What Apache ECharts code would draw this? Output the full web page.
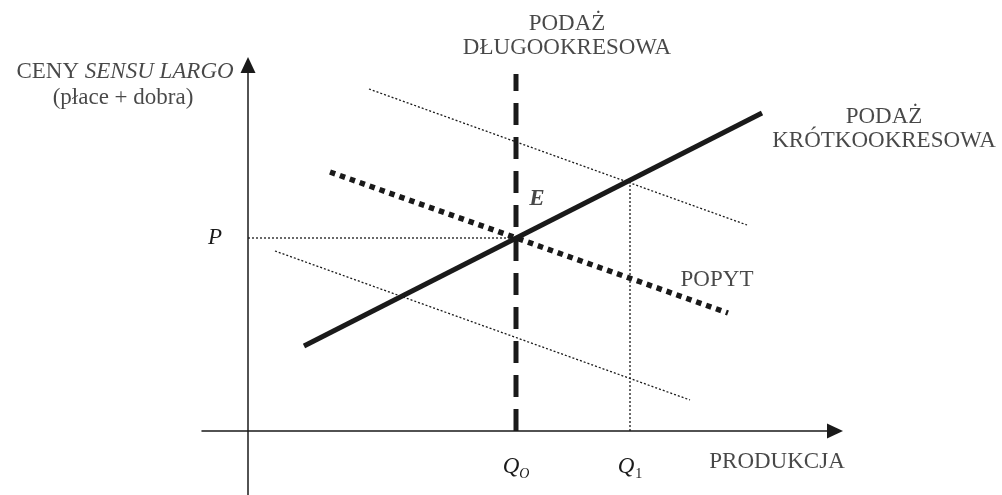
<!DOCTYPE html>
<html>
<head>
<meta charset="utf-8">
<script src="https://cdn.jsdelivr.net/npm/echarts@6/dist/echarts.min.js"></script>
<style>
  html, body { margin: 0; padding: 0; background: #fff; }
  #chart { width: 1002px; height: 495px; }
</style>
</head>
<body>
<div id="chart"></div>
<script>
// Diagram values (abstract units, origin where the axes cross)
const qO = 26.8;   // long-run output
const q1 = 38.2;   // short-run output after the shift
const pE = 19.3;   // equilibrium price level

const shortRunSupply = [[5.6, 8.5], [51.4, 31.8]];
const longRunSupply = [[qO, 0], [qO, 35.7]];
const demand = [[8.2, 25.9], [48.0, 11.8]];
const demandHigh = [[12.1, 34.2], [49.9, 20.6]];
const demandLow = [[2.7, 18.0], [44.2, 3.1]];
const priceGuide = [[0, pE], [qO, pE]];
const q1Guide = [[q1, 0], [q1, 25.0]];

const xTickValues = [qO, q1];
const xTickLabels = ['{q|Q}{so|O}', '{q|Q}{s1|1}'];
const yTickValues = [pE];
const yTickLabels = ['P'];

// text annotations: [text, x, y]
const notes = [
  ['PODAŻ\nDŁUGOOKRESOWA', 31.9, 39.5],
  ['PODAŻ\nKRÓTKOOKRESOWA', 63.6, 30.2],
  ['CENY {i|SENSU LARGO}', -12.3, 35.9],
  ['(płace + dobra)', -12.5, 33.3],
  ['{b|E}', 28.9, 23.2],
  ['POPYT', 46.9, 15.1],
  ['PRODUKCJA', 52.9, -3.1]
];

const ink = '#1a1a1a';
const serif = 'Liberation Serif';

function guide(data, style) {
    return {
        type: 'line',
        data: data,
        symbol: 'none',
        silent: true,
        lineStyle: Object.assign({ color: ink, cap: 'butt' }, style)
    };
}

const chart = echarts.init(document.getElementById('chart'));

chart.setOption({
    animation: false,
    backgroundColor: '#fff',
    textStyle: { fontFamily: serif, color: ink },
    grid: { left: 202, right: 167, top: 65, bottom: 0, containLabel: false, outerBoundsMode: 'none' },
    xAxis: {
        type: 'value',
        min: -4.6,
        max: 58.7,
        offset: -64,
        splitLine: { show: false },
        axisTick: { show: false },
        axisLine: {
            onZero: false,
            symbol: ['none', 'triangle'],
            symbolSize: [15, 16],
            lineStyle: { color: ink, width: 1.5 }
        },
        axisLabel: {
            customValues: xTickValues,
            margin: 24,
            formatter: v => xTickLabels[xTickValues.indexOf(v)] || '',
            rich: {
                q: { fontFamily: serif, fontStyle: 'italic', fontSize: 23, lineHeight: 26, verticalAlign: 'top', color: ink },
                so: { fontFamily: serif, fontStyle: 'italic', fontSize: 14, lineHeight: 14, padding: [12, 0, 0, 0], verticalAlign: 'top', color: ink },
                s1: { fontFamily: serif, fontSize: 14, lineHeight: 14, padding: [12, 0, 0, 1], verticalAlign: 'top', color: ink }
            }
        }
    },
    yAxis: {
        type: 'value',
        min: -6.4,
        max: 36.6,
        offset: -46,
        splitLine: { show: false },
        axisTick: { show: false },
        axisLine: {
            onZero: false,
            symbol: ['none', 'triangle'],
            symbolSize: [15, 16],
            lineStyle: { color: ink, width: 1.5 }
        },
        axisLabel: {
            customValues: yTickValues,
            margin: 26,
            formatter: v => yTickLabels[yTickValues.indexOf(v)] || '',
            fontFamily: serif,
            fontStyle: 'italic',
            fontSize: 23,
            color: ink
        }
    },
    series: [
        guide(demandHigh, { width: 1.3, type: [2, 2] }),
        guide(demandLow, { width: 1.3, type: [2, 2] }),
        guide(priceGuide, { width: 1.3, type: [2, 2] }),
        guide(q1Guide, { width: 1.3, type: [2, 2] }),
        guide(demand, { width: 5.5, type: [5.5, 5] }),
        guide(longRunSupply, { width: 5, type: [22, 12] }),
        guide(shortRunSupply, { width: 5, type: 'solid' }),
        {
            type: 'scatter',
            silent: true,
            clip: false,
            symbolSize: 0,
            data: notes.map(n => ({ value: [n[1], n[2]], name: n[0] })),
            label: {
                show: true,
                position: 'inside',
                formatter: p => p.name,
                fontFamily: serif,
                fontSize: 23,
                lineHeight: 24,
                align: 'center',
                color: ink,
                rich: {
                    i: { fontFamily: serif, fontStyle: 'italic', fontSize: 23, color: ink },
                    b: { fontFamily: serif, fontStyle: 'italic', fontWeight: 'bold', fontSize: 23, color: ink }
                }
            }
        }
    ]
});
</script>
</body>
</html>
